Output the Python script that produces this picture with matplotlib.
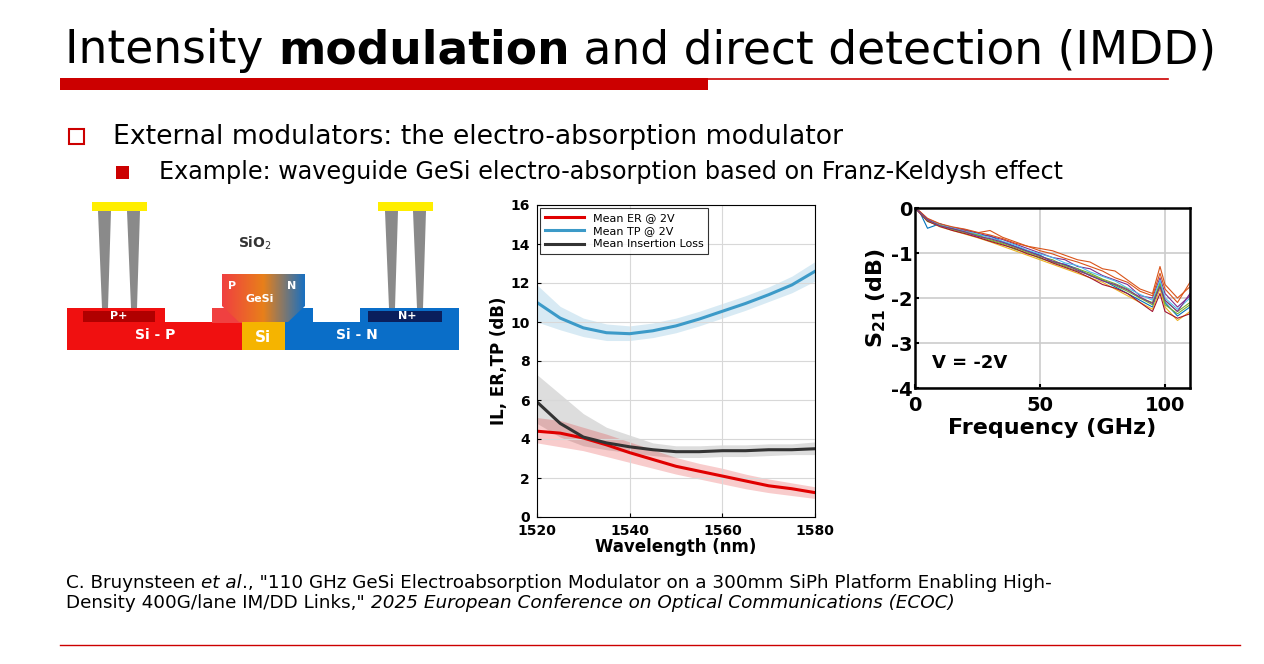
import matplotlib.pyplot as plt
from matplotlib.patches import Rectangle, Polygon
from matplotlib.colors import LinearSegmentedColormap
import numpy as np

# ---- middle chart: IL / ER / TP vs wavelength ----
wl = [1520, 1525, 1530, 1535, 1540, 1545, 1550, 1555, 1560, 1565, 1570, 1575, 1580]
er_mean = [4.4, 4.3, 4.05, 3.7, 3.3, 2.95, 2.6, 2.35, 2.1, 1.85, 1.6, 1.45, 1.25]
er_lo = [3.8, 3.6, 3.4, 3.1, 2.8, 2.5, 2.2, 1.95, 1.7, 1.45, 1.25, 1.1, 0.95]
er_hi = [5.1, 4.95, 4.6, 4.25, 3.85, 3.45, 3.05, 2.75, 2.5, 2.2, 1.95, 1.75, 1.55]
tp_mean = [11.0, 10.2, 9.7, 9.45, 9.4, 9.55, 9.8, 10.15, 10.55, 10.95, 11.4, 11.9, 12.6]
tp_lo = [10.0, 9.6, 9.25, 9.05, 9.05, 9.2, 9.45, 9.8, 10.2, 10.6, 11.05, 11.5, 12.1]
tp_hi = [11.9, 10.8, 10.2, 9.9, 9.8, 9.95, 10.2, 10.55, 10.95, 11.35, 11.8, 12.35, 13.1]
il_mean = [5.9, 4.8, 4.1, 3.8, 3.6, 3.45, 3.35, 3.35, 3.4, 3.4, 3.45, 3.45, 3.5]
il_lo = [4.8, 4.1, 3.65, 3.45, 3.3, 3.15, 3.05, 3.05, 3.1, 3.1, 3.15, 3.2, 3.2]
il_hi = [7.3, 6.3, 5.3, 4.6, 4.2, 3.8, 3.65, 3.65, 3.7, 3.7, 3.75, 3.75, 3.85]

freq = [0, 2, 5, 10, 15, 20, 25, 30, 35, 40, 45, 50, 55, 60, 65, 70, 75, 80, 85, 90, 95, 98, 100, 105, 110]
s21_traces = [
    [0, -0.1, -0.45, -0.35, -0.45, -0.5, -0.6, -0.62, -0.75, -0.85, -0.95, -1.05, -1.2, -1.25, -1.35, -1.5, -1.6, -1.75, -1.9, -2.05, -2.2, -1.7, -2.1, -2.4, -2.2],
    [0, -0.08, -0.25, -0.38, -0.45, -0.5, -0.55, -0.5, -0.65, -0.75, -0.85, -0.9, -0.95, -1.05, -1.15, -1.2, -1.35, -1.4, -1.6, -1.8, -1.9, -1.3, -1.7, -2.0, -1.75],
    [0, -0.1, -0.28, -0.42, -0.5, -0.58, -0.66, -0.75, -0.85, -0.95, -1.05, -1.15, -1.25, -1.35, -1.45, -1.55, -1.65, -1.8, -1.95, -2.1, -2.25, -1.8, -2.2, -2.5, -2.3],
    [0, -0.09, -0.24, -0.36, -0.43, -0.48, -0.56, -0.63, -0.7, -0.8, -0.9, -1.0, -1.1, -1.15, -1.3, -1.35, -1.5, -1.6, -1.7, -1.95, -2.0, -1.55, -1.9, -2.2, -1.95],
    [0, -0.11, -0.3, -0.4, -0.48, -0.55, -0.62, -0.72, -0.8, -0.92, -1.0, -1.12, -1.2, -1.3, -1.4, -1.48, -1.6, -1.72, -1.85, -2.0, -2.15, -1.65, -2.05, -2.3, -2.1],
    [0, -0.1, -0.26, -0.37, -0.44, -0.52, -0.58, -0.66, -0.74, -0.82, -0.94, -1.02, -1.1, -1.22, -1.28, -1.42, -1.52, -1.62, -1.78, -1.92, -2.05, -1.6, -2.0, -2.25, -2.0],
    [0, -0.12, -0.29, -0.41, -0.5, -0.57, -0.65, -0.74, -0.82, -0.9, -1.02, -1.1, -1.22, -1.32, -1.42, -1.55, -1.7, -1.78, -1.9, -2.1, -2.3, -1.9, -2.3, -2.45, -2.35],
    [0, -0.08, -0.23, -0.35, -0.42, -0.47, -0.54, -0.6, -0.68, -0.78, -0.85, -0.95, -1.02, -1.12, -1.2, -1.3, -1.4, -1.55, -1.65, -1.85, -1.95, -1.45, -1.8, -2.1, -1.65],
    [0, -0.1, -0.27, -0.39, -0.47, -0.54, -0.6, -0.7, -0.78, -0.88, -0.98, -1.08, -1.15, -1.28, -1.35, -1.45, -1.58, -1.68, -1.8, -2.0, -2.1, -1.7, -2.15, -2.35, -2.15],
    [0, -0.1, -0.26, -0.4, -0.46, -0.53, -0.63, -0.68, -0.76, -0.86, -0.96, -1.06, -1.18, -1.26, -1.38, -1.5, -1.62, -1.7, -1.82, -1.98, -2.12, -1.75, -2.05, -2.3, -1.9],
]
trace_colors = ["#0072BD", "#D95319", "#EDB120", "#7E2F8E", "#77AC30", "#4DBEEE", "#A2142F",
                "#D95319", "#77AC30", "#7E2F8E"]

RED = "#cc0000"
W, H = 1264, 664
fig = plt.figure(figsize=(W / 100, H / 100), dpi=100)

# pixel-space overlay for slide decoration and the device sketch
bg = fig.add_axes([0, 0, 1, 1])
bg.set_xlim(0, W)
bg.set_ylim(H, 0)
bg.axis("off")
r = fig.canvas.get_renderer()


def chain(x, y, parts, size):
    # write text pieces one after another on one baseline
    for part, kw in parts:
        t = bg.text(x, y, part, fontsize=size, va="baseline", **kw)
        x += t.get_window_extent(r).width
    return x


chain(65, 63, [("Intensity ", {}), ("modulation", {"fontweight": "bold"}),
               (" and direct detection (IMDD)", {})], 32.8)
bg.add_patch(Rectangle((60, 78), 648, 12, color=RED, lw=0))
bg.plot([708, 1168], [79, 79], color=RED, lw=1.2)

bg.add_patch(Rectangle((69, 129), 15, 15, fill=False, ec=RED, lw=1.5))
bg.text(113, 137, "External modulators: the electro-absorption modulator", fontsize=19.2, va="center")
bg.add_patch(Rectangle((116, 166), 13, 13, color=RED, lw=0))
bg.text(159, 172, "Example: waveguide GeSi electro-absorption based on Franz-Keldysh effect",
        fontsize=17.2, va="center")

it = {"style": "italic"}
chain(66, 588, [("C. Bruynsteen ", {}), ("et al", it),
                ("., \"110 GHz GeSi Electroabsorption Modulator on a 300mm SiPh Platform Enabling High-", {})], 13.2)
chain(66, 608, [("Density 400G/lane IM/DD Links,\" ", {}),
                ("2025 European Conference on Optical Communications (ECOC)", it)], 13.2)
bg.plot([60, 1240], [645, 645], color=RED, lw=1)

# ---- device cross-section sketch ----
bg.add_patch(Rectangle((67, 322), 175, 28, color="#f01010", lw=0))
bg.add_patch(Rectangle((67, 308), 98, 15, color="#f01010", lw=0))
bg.add_patch(Rectangle((212, 308), 30, 15, color="#f04040", lw=0))
bg.add_patch(Rectangle((285, 322), 174, 28, color="#0a6ec8", lw=0))
bg.add_patch(Rectangle((285, 308), 28, 15, color="#0a6ec8", lw=0))
bg.add_patch(Rectangle((360, 308), 99, 15, color="#0a6ec8", lw=0))
bg.add_patch(Rectangle((242, 322), 43, 28, color="#f5b400", lw=0))
bg.add_patch(Rectangle((83, 311), 72, 11, color="#b00000", lw=0))
bg.add_patch(Rectangle((368, 311), 74, 11, color="#0a1f5c", lw=0))
# GeSi gradient block with chamfered bottom
cmap = LinearSegmentedColormap.from_list("gesi", ["#f04040", "#e8801a", "#1a70c0"])
grad = bg.imshow(np.linspace(0, 1, 100)[None, :], cmap=cmap, extent=[222, 305, 322, 274],
                 aspect="auto", zorder=2)
clip = Polygon([(222, 274), (305, 274), (305, 306), (288, 322), (239, 322), (222, 306)], closed=True,
               transform=bg.transData)
grad.set_clip_path(clip)
bg.set_xlim(0, W)
bg.set_ylim(H, 0)
for px in (92, 378):
    bg.add_patch(Rectangle((px, 202), 55, 9, color="#ffee00", lw=0))
for vx in (98, 127, 385, 413):
    bg.add_patch(Polygon([(vx, 211), (vx + 13, 211), (vx + 10, 308), (vx + 4, 308)], color="#8a8a8a", lw=0))
lab = dict(color="white", fontweight="bold", ha="center", va="center", zorder=3)
bg.text(119, 316, "P+", fontsize=8, **lab)
bg.text(155, 335, "Si - P", fontsize=10, **lab)
bg.text(232, 286, "P", fontsize=8, **lab)
bg.text(260, 299, "GeSi", fontsize=8, **lab)
bg.text(292, 286, "N", fontsize=8, **lab)
bg.text(263, 337, "Si", fontsize=11, **lab)
bg.text(357, 335, "Si - N", fontsize=10, **lab)
bg.text(407, 316, "N+", fontsize=8, **lab)
bg.text(255, 243, "SiO$_2$", fontsize=10, fontweight="bold", color="#333333", ha="center", va="center")

# ---- middle chart ----
ax = fig.add_axes([537 / W, 1 - 517 / H, 278 / W, 312 / H])
ax.fill_between(wl, tp_lo, tp_hi, color="#3c9ac8", alpha=0.2, lw=0)
ax.fill_between(wl, il_lo, il_hi, color="#555555", alpha=0.2, lw=0)
ax.fill_between(wl, er_lo, er_hi, color="#e00000", alpha=0.2, lw=0)
ax.plot(wl, er_mean, color="#e00000", lw=2.2, label="Mean ER @ 2V")
ax.plot(wl, tp_mean, color="#3c9ac8", lw=2.2, label="Mean TP @ 2V")
ax.plot(wl, il_mean, color="#333333", lw=2.2, label="Mean Insertion Loss")
ax.set_xlim(1520, 1580)
ax.set_ylim(0, 16)
ax.set_xticks([1520, 1540, 1560, 1580])
ax.set_yticks(range(0, 17, 2))
ax.grid(True, color="#d8d8d8", lw=0.8)
ax.tick_params(labelsize=10, direction="in", length=3)
ax.tick_params(axis="x", pad=5)
ax.tick_params(axis="y", pad=5)
for tl in ax.get_xticklabels() + ax.get_yticklabels():
    tl.set_fontweight("bold")
ax.set_xlabel("Wavelength (nm)", fontsize=12, fontweight="bold", labelpad=0)
ax.set_ylabel("IL, ER,TP (dB)", fontsize=12, fontweight="bold", labelpad=2)
leg = ax.legend(loc="upper left", fontsize=8, frameon=True, fancybox=False, edgecolor="black",
                handlelength=3.5, borderaxespad=0.3, labelspacing=0.3)
leg.get_frame().set_linewidth(0.8)

# ---- right chart ----
ax2 = fig.add_axes([915 / W, 1 - 388 / H, 275 / W, 180 / H])
for tr, c in zip(s21_traces, trace_colors):
    ax2.plot(freq, tr, color=c, lw=0.8)
ax2.set_xlim(0, 110)
ax2.set_ylim(-4, 0)
ax2.set_xticks([0, 50, 100])
ax2.set_yticks([-4, -3, -2, -1, 0])
ax2.set_yticklabels(["-4", "-3", "-2", "-1", "0"])
ax2.grid(True, color="#cccccc", lw=1.2)
for s in ax2.spines.values():
    s.set_linewidth(1.8)
ax2.tick_params(labelsize=14, direction="in", length=3, width=1.5, pad=2)
ax2.tick_params(axis="x", pad=6)
for tl in ax2.get_xticklabels() + ax2.get_yticklabels():
    tl.set_fontweight("bold")
ax2.set_xlabel("Frequency (GHz)", fontsize=16, fontweight="bold", labelpad=2)
ax2.set_ylabel("S$_{\\mathbf{21}}$ (dB)", fontsize=16, fontweight="bold", labelpad=2)
ax2.text(7, -3.55, "V = -2V", fontsize=13, fontweight="bold")

fig.savefig("out.png", dpi=100)
